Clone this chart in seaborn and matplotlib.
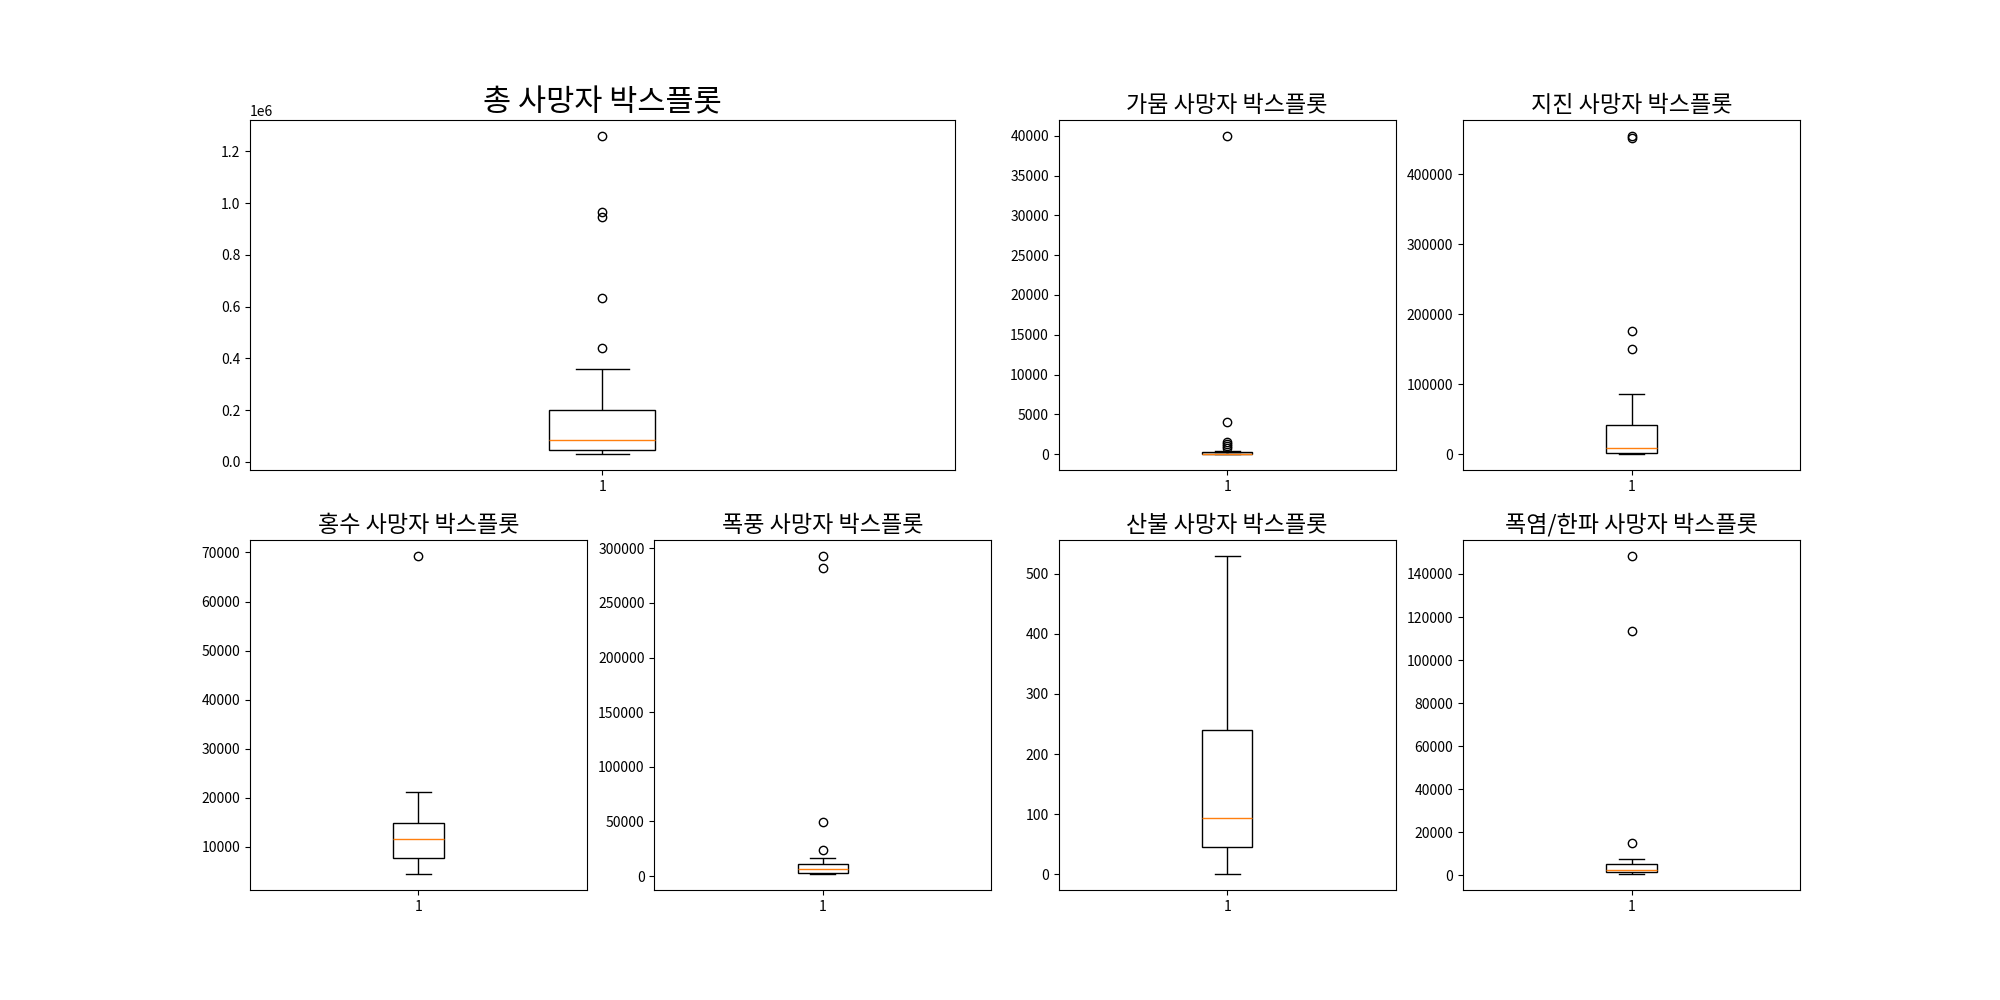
import matplotlib
matplotlib.use("Agg")
import matplotlib.pyplot as plt
import seaborn as sns

plt.rcParams['font.family'] = ['Noto Sans CJK KR', 'DejaVu Sans']
plt.rcParams['axes.unicode_minus'] = False

# 재해별 사망자 수 (값은 그림에서 읽어낸 추정치)
total_deaths = [30000, 32000, 34000, 36000, 38000, 40000, 42000, 44000, 45000,
                50000, 55000, 60000, 65000, 70000, 75000, 80000, 85000,
                95000, 110000, 125000, 140000, 160000, 175000, 190000, 200000,
                250000, 300000, 360000, 440000, 635000, 945000, 965000, 1260000]
drought_deaths = [0, 0, 0, 0, 0, 0, 0, 0, 0,
                  0, 2, 5, 8, 10, 15, 18, 20,
                  30, 50, 80, 110, 150, 190, 220, 250,
                  300, 350, 800, 1000, 1250, 1500, 4000, 40000]
quake_deaths = [50, 100, 200, 300, 500, 700, 900, 1200, 1400,
                2000, 2800, 3500, 4500, 5500, 6500, 7500, 8600,
                10000, 12000, 15000, 19000, 24000, 30000, 36000, 41400,
                50000, 62000, 70000, 86000, 151000, 176000, 452000, 455000]
flood_deaths = [4400, 5000, 5600, 6000, 6500, 6900, 7200, 7500, 7700,
                8200, 8800, 9400, 10000, 10500, 11000, 11300, 11600,
                12000, 12500, 13000, 13500, 14000, 14300, 14600, 14800,
                15500, 16300, 17000, 18000, 19000, 20000, 21200, 69300]
storm_deaths = [1800, 1900, 2000, 2100, 2200, 2300, 2500, 2600, 2700,
                3000, 3500, 4000, 4500, 5000, 5500, 6000, 6400,
                7000, 7500, 8000, 8600, 9200, 9800, 10400, 11000,
                12000, 13500, 15000, 16500, 24100, 49400, 281700, 293000]
wildfire_deaths = [0, 2, 5, 10, 15, 22, 30, 38, 45,
                   50, 56, 62, 68, 75, 82, 88, 93,
                   100, 115, 130, 150, 175, 200, 220, 240,
                   260, 290, 320, 350, 390, 430, 480, 530]
temp_deaths = [500, 600, 700, 800, 900, 1000, 1100, 1250, 1400,
               1500, 1600, 1700, 1800, 1950, 2050, 2200, 2300,
               2600, 2900, 3200, 3600, 4000, 4400, 4800, 5100,
               5500, 6000, 6500, 7000, 7400, 14900, 113500, 148400]

panels = [
    ((2, 2, 1), total_deaths, '총 사망자 박스플롯', 22),
    ((2, 4, 3), drought_deaths, '가뭄 사망자 박스플롯', 16.6),
    ((2, 4, 4), quake_deaths, '지진 사망자 박스플롯', 16.6),
    ((2, 4, 5), flood_deaths, '홍수 사망자 박스플롯', 16.6),
    ((2, 4, 6), storm_deaths, '폭풍 사망자 박스플롯', 16.6),
    ((2, 4, 7), wildfire_deaths, '산불 사망자 박스플롯', 16.6),
    ((2, 4, 8), temp_deaths, '폭염/한파 사망자 박스플롯', 16.6),
]

fig = plt.figure(figsize=(20, 10), dpi=100)

for pos, values, title, fs in panels:
    ax = plt.subplot(*pos)
    sns.boxplot(y=values, ax=ax, width=0.15, color='white', linecolor='black',
                linewidth=1, saturation=1,
                medianprops={'color': '#ff7f0e'},
                flierprops={'marker': 'o', 'markerfacecolor': 'none',
                            'markeredgecolor': 'black', 'markersize': 6})
    ax.set_xlim(-0.5, 0.5)
    ax.set_xticks([0])
    ax.set_xticklabels(['1'])
    ax.set_ylabel('')
    ax.set_title(title, fontsize=fs)

plt.savefig('out.png', dpi=100)
